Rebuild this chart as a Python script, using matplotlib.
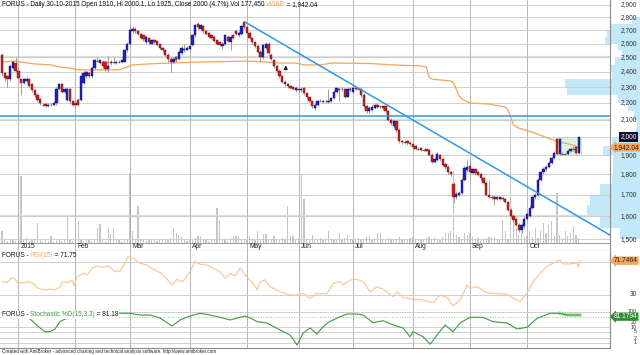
import numpy as np
import matplotlib
matplotlib.use("Agg")
from matplotlib import pyplot as plt
from matplotlib.ticker import NullLocator

plt.rcParams['font.family'] = ['Liberation Sans', 'DejaVu Sans']

# ---- daily bars, 22 Dec 2014 .. 30 Oct 2015 (one row per month) ----
opens = [2520, 2390, 2370, 2350, 2430, 2460,
         2410, 2350, 2330, 2340, 2350, 2320, 2280, 2250, 2225, 2190, 2195, 2180, 2190, 2185, 2200, 2290, 2320, 2270, 2220, 2290, 2210,
         2200, 2220, 2220, 2330, 2370, 2390, 2370, 2430, 2475, 2460, 2470, 2445, 2420, 2470, 2465, 2460, 2468, 2465, 2470, 2550,
         2600, 2690, 2710, 2690, 2670, 2660, 2610, 2640, 2600, 2625, 2615, 2595, 2570, 2550, 2520, 2490, 2470, 2500, 2490, 2530, 2550, 2555,
         2560, 2590, 2660, 2750, 2710, 2730, 2690, 2680, 2660, 2650, 2625, 2610, 2580, 2600, 2650, 2610, 2660, 2690, 2660, 2670, 2760,
         2720, 2680, 2640, 2610, 2580, 2540, 2500, 2570, 2600, 2520, 2480, 2440, 2410, 2370, 2335, 2320, 2305, 2300, 2280,
         2290, 2280, 2295, 2260, 2235, 2215, 2170, 2185, 2210, 2215, 2210, 2205, 2215, 2230, 2270, 2290, 2290, 2290, 2240, 2290,
         2270, 2295, 2290, 2290, 2250, 2180, 2150, 2160, 2170, 2190, 2180, 2180, 2180, 2150, 2100, 2060, 2090, 2040, 1975, 1970, 1975, 1965,
         1960, 1950, 1935, 1940, 1930, 1932, 1928, 1900, 1865, 1875, 1900, 1880, 1855, 1840, 1810, 1750, 1690, 1700, 1710, 1770, 1820,
         1845, 1805, 1825, 1810, 1800, 1780, 1757, 1700, 1690, 1690, 1690, 1680, 1685, 1680, 1665, 1630, 1600, 1590, 1560, 1540, 1555,
         1590, 1600, 1640, 1690, 1700, 1770, 1810, 1825, 1840, 1860, 1885, 1990, 1905, 1905, 1905, 1905, 1920, 1935, 1945, 1910]
highs = [2530, 2400, 2380, 2450, 2480, 2500,
         2420, 2360, 2360, 2370, 2355, 2330, 2290, 2260, 2230, 2200, 2200, 2200, 2200, 2210, 2300, 2330, 2330, 2295, 2300, 2295, 2220,
         2215, 2230, 2380, 2410, 2410, 2400, 2440, 2490, 2500, 2490, 2480, 2450, 2510, 2480, 2500, 2480, 2480, 2490, 2560, 2610,
         2740, 2730, 2720, 2700, 2680, 2670, 2660, 2650, 2635, 2630, 2620, 2600, 2575, 2560, 2530, 2500, 2500, 2510, 2550, 2580, 2600, 2580,
         2590, 2670, 2750, 2760, 2750, 2740, 2700, 2690, 2670, 2660, 2630, 2620, 2610, 2670, 2660, 2660, 2670, 2700, 2690, 2740, 2770,
         2730, 2690, 2650, 2620, 2590, 2550, 2600, 2610, 2610, 2530, 2490, 2450, 2420, 2380, 2345, 2330, 2315, 2310, 2305,
         2300, 2300, 2300, 2265, 2240, 2220, 2195, 2220, 2225, 2220, 2220, 2290, 2240, 2280, 2300, 2300, 2300, 2295, 2300, 2300,
         2305, 2300, 2300, 2300, 2260, 2190, 2180, 2185, 2195, 2200, 2190, 2185, 2185, 2160, 2110, 2100, 2100, 2050, 1980, 1980, 1980, 1975,
         1965, 1955, 1945, 1945, 1935, 1935, 1935, 1910, 1890, 1915, 1905, 1890, 1860, 1850, 1815, 1760, 1720, 1720, 1780, 1845, 1880,
         1880, 1835, 1830, 1815, 1805, 1785, 1765, 1770, 1700, 1700, 1695, 1695, 1690, 1685, 1670, 1640, 1610, 1595, 1570, 1570, 1600,
         1620, 1650, 1700, 1710, 1780, 1815, 1840, 1850, 1870, 1890, 1920, 1995, 1995, 1915, 1910, 1930, 1945, 1950, 1950, 2000]
lows = [2370, 2340, 2300, 2340, 2420, 2400,
        2350, 2250, 2320, 2330, 2300, 2270, 2240, 2210, 2190, 2180, 2175, 2175, 2180, 2180, 2190, 2280, 2260, 2260, 2210, 2200, 2180,
        2180, 2180, 2215, 2320, 2360, 2360, 2360, 2420, 2465, 2455, 2430, 2410, 2400, 2450, 2455, 2455, 2460, 2460, 2465, 2540,
        2590, 2680, 2680, 2660, 2630, 2620, 2600, 2600, 2595, 2600, 2580, 2560, 2540, 2510, 2470, 2400, 2460, 2470, 2480, 2520, 2540, 2550,
        2550, 2580, 2650, 2710, 2700, 2680, 2660, 2640, 2630, 2610, 2590, 2580, 2560, 2590, 2610, 2550, 2630, 2660, 2650, 2660, 2710,
        2670, 2630, 2600, 2570, 2530, 2470, 2490, 2560, 2520, 2480, 2430, 2400, 2360, 2325, 2310, 2295, 2285, 2280, 2270,
        2270, 2270, 2250, 2225, 2205, 2170, 2160, 2180, 2205, 2200, 2200, 2200, 2205, 2225, 2260, 2210, 2275, 2230, 2235, 2270,
        2265, 2280, 2280, 2240, 2170, 2140, 2140, 2150, 2165, 2170, 2170, 2160, 2140, 2090, 2070, 2050, 2030, 1965, 1960, 1960, 1955, 1950,
        1940, 1930, 1930, 1925, 1925, 1920, 1895, 1860, 1860, 1870, 1870, 1845, 1830, 1800, 1790, 1660, 1680, 1695, 1700, 1765, 1810,
        1800, 1800, 1795, 1790, 1770, 1750, 1695, 1685, 1680, 1650, 1675, 1675, 1670, 1660, 1625, 1595, 1575, 1555, 1530, 1527, 1550,
        1585, 1595, 1635, 1680, 1695, 1765, 1800, 1815, 1835, 1855, 1880, 1900, 1900, 1900, 1900, 1900, 1915, 1925, 1905, 1905]
closes = [2390, 2360, 2350, 2440, 2465, 2410,
          2360, 2330, 2350, 2355, 2310, 2280, 2250, 2220, 2200, 2190, 2180, 2190, 2185, 2200, 2290, 2320, 2270, 2285, 2290, 2210, 2190,
          2185, 2190, 2370, 2390, 2400, 2370, 2430, 2480, 2475, 2480, 2440, 2420, 2440, 2460, 2465, 2470, 2468, 2480, 2550, 2600,
          2700, 2710, 2690, 2670, 2640, 2630, 2650, 2610, 2625, 2610, 2590, 2570, 2550, 2520, 2490, 2470, 2490, 2480, 2540, 2570, 2560, 2570,
          2580, 2660, 2740, 2720, 2740, 2690, 2670, 2650, 2640, 2620, 2600, 2590, 2600, 2660, 2620, 2650, 2640, 2670, 2680, 2730, 2720,
          2680, 2640, 2610, 2580, 2540, 2500, 2590, 2600, 2530, 2490, 2440, 2410, 2370, 2335, 2320, 2305, 2295, 2290, 2295,
          2280, 2290, 2260, 2235, 2215, 2180, 2185, 2210, 2215, 2205, 2210, 2215, 2230, 2270, 2295, 2280, 2285, 2240, 2290, 2280,
          2295, 2285, 2290, 2250, 2180, 2150, 2170, 2175, 2185, 2175, 2180, 2170, 2150, 2100, 2080, 2090, 2040, 1975, 1970, 1970, 1965, 1960,
          1945, 1935, 1935, 1930, 1930, 1925, 1900, 1865, 1880, 1905, 1880, 1850, 1840, 1810, 1800, 1690, 1705, 1710, 1770, 1835, 1840,
          1810, 1825, 1805, 1795, 1780, 1757, 1700, 1690, 1690, 1680, 1680, 1688, 1678, 1665, 1630, 1600, 1585, 1560, 1540, 1560, 1590,
          1610, 1640, 1690, 1700, 1770, 1810, 1830, 1840, 1860, 1885, 1910, 1905, 1990, 1905, 1905, 1925, 1935, 1935, 1910, 2000]
volume_k = [420, 105, 70, 140, 105, 70,
            2280, 2350, 105, 175, 70, 105, 140, 700, 105, 70, 105, 70, 245, 70, 105, 140, 70, 105, 980, 105, 70,
            140, 770, 105, 70, 105, 140, 70, 105, 525, 665, 105, 70, 560, 315, 525, 140, 105, 70, 140, 105,
            2450, 420, 140, 1300, 140, 105, 70, 105, 140, 105, 70, 105, 140, 105, 105, 175, 525, 350, 280, 210, 105, 70,
            140, 105, 175, 245, 245, 105, 140, 70, 105, 140, 1225, 805, 105, 140, 70, 175, 245, 245, 245, 105, 140,
            105, 245, 140, 105, 420, 140, 315, 315, 140, 105, 245, 140, 105, 175, 140, 1300, 245, 245, 140,
            175, 2380, 1540, 140, 105, 280, 140, 105, 175, 105, 140, 420, 140, 105, 140, 350, 105, 175, 280, 140,
            105, 140, 175, 105, 140, 210, 245, 105, 140, 350, 350, 140, 105, 175, 140, 105, 140, 210, 105, 140, 105, 175,
            210, 140, 105, 140, 105, 175, 210, 140, 175, 140, 105, 210, 350, 350, 420, 2520, 280, 210, 140, 350, 280,
            350, 210, 140, 175, 105, 140, 175, 210, 210, 210, 140, 105, 805, 420, 140, 4270, 875, 525, 280, 420, 210,
            245, 420, 210, 525, 175, 420, 700, 350, 630, 770, 245, 1750, 280, 175, 420, 245, 350, 595, 280, 177]

month_idx = [6, 27, 47, 69, 90, 109, 129, 151, 172, 193]
month_lbl = ['2015', 'Feb', 'Mar', 'Apr', 'May', 'Jun', 'Jul', 'Aug', 'Sep', 'Oct']

# VWAP line
vwap_idx = [0, 5, 7, 12, 18, 21, 25, 28, 31, 43, 46, 48, 54, 58, 73, 91, 102, 108, 111, 117, 121, 135, 144, 154, 156,
            157, 158, 165, 166, 168, 169, 172, 179, 185, 186, 187, 188, 190, 195, 200, 205, 210, 212]
vwap_val = [2468, 2475, 2468, 2455, 2448, 2434, 2427, 2414, 2414, 2414, 2434, 2448, 2455, 2458, 2468, 2475, 2461, 2461, 2448, 2448, 2461, 2458, 2448, 2441, 2434,
            2366, 2353, 2340, 2327, 2244, 2225, 2200, 2193, 2175, 2157, 2116, 2068, 2050, 2026, 1997, 1971, 1955, 1942.04]

trend_idx = [89.3, 223.5]
trend_val = [2762, 1518]
hline_val = 2121
box_idx = [203.9, 212.9]
box_val = [1900, 2000]
sell_arrow = (37.9, 2475, 2410)
buy_arrow = (104.3, 2395, 2465)

# volume-at-price profile (price bins, width in pixels from right edge)
prof_lo = [1500, 1550, 1600, 1650, 1700, 1750, 1800, 1850, 1900, 1950, 2000, 2050, 2100, 2150, 2200, 2250,
           2300, 2350, 2400, 2450, 2500, 2550, 2600, 2650, 2700, 2750]
prof_w = [20, 40, 53, 50, 40, 28, 27, 27, 37, 28, 4, 3, 6, 12, 22, 73, 75, 28, 30, 25, 18, 22, 35, 33, 30, 8]

# RSI(15) and Stochastic %D
rsi_idx = [0, 1.8, 3.7, 4.8, 5.9, 7.7, 9.6, 11.4, 12.9, 15.1, 17.6, 19.5, 21.3, 22.4, 24.3, 25.7, 26.5, 27.6, 28.7, 29.8,
           31.3, 33.1, 34.9, 37.1, 39.0, 41.5, 43.4, 45.2, 46.3, 48.2, 50.7, 53.3, 55.5, 58.1, 60.7, 62.5, 64.3, 66.5, 69.1,
           71.0, 72.8, 75.4, 77.6, 80.1, 82.0, 83.8, 85.7, 87.5, 88.6, 90.1, 92.3, 93.8, 94.9, 96.7, 98.5, 102.2, 105.9,
           108.5, 110.7, 113.2, 115.8, 116.9, 119.5, 121.7, 124.3, 125.4, 127.9, 130.5, 132.7, 135.3, 137.9, 140.1, 143.8,
           145.2, 147.4, 151.1, 154.8, 158.5, 161.0, 163.6, 165.8, 168.4, 171.0, 172.1, 174.6, 178.3, 183.1, 185.7, 187.9,
           190.4, 193.0, 195.2, 197.8, 200.4, 202.6, 205.1, 206.3, 208.8, 211.4, 211.8, 212.5]
rsi_val = [46.2, 45.0, 51.5, 49.1, 44.2, 45.0, 46.2, 44.2, 38.9, 36.1, 36.9, 36.1, 40.1, 46.2, 45.0, 48.3, 41.3, 52.3, 54.3, 56.4,
           54.3, 62.5, 65.3, 63.7, 65.7, 58.4, 59.2, 68.6, 76.6, 74.7, 68.6, 66.5, 61.3, 57.2, 49.1, 42.2, 49.1, 46.2, 58.4,
           70.5, 67.4, 66.5, 62.5, 58.4, 50.3, 56.4, 53.1, 62.5, 58.4, 51.5, 44.2, 36.1, 46.2, 48.3, 40.1, 34.0, 30.0,
           30.0, 32.0, 26.0, 32.0, 31.2, 32.0, 44.2, 46.2, 42.2, 48.3, 49.1, 46.2, 34.0, 40.1, 37.0, 27.9,
           34.0, 27.2, 24.8, 23.9, 20.6, 30.0, 27.2, 16.6, 23.9, 42.2, 38.2, 40.1, 32.8, 31.2, 31.2, 26.0,
           21.9, 32.0, 46.2, 56.4, 65.3, 68.6, 72.6, 67.7, 67.7, 69.3, 64.0, 71.75]
sto_idx = [8.5, 11.4, 14.0, 15.8, 17.6, 19.5, 21.3, 23.2, 25.7, 39.0, 47.0, 50.7, 54.4, 58.0, 62.5, 65.4, 69.1, 72.8,
           76.5, 80.1, 83.8, 87.5, 89.3, 91.2, 93.8, 97.4, 102.2, 105.9, 108.5, 110.7, 113.2, 115.8, 116.9, 119.5, 123.2,
           126.8, 130.5, 132.7, 136.4, 140.1, 143.8, 147.4, 150.0, 151.1, 154.8, 157.4, 159.9, 162.9, 165.8, 168.4, 172.1,
           176.8, 180.5, 185.7, 189.3, 193.0, 196.7, 201.5, 205.1, 207.7, 212.5]
sto_val = [61.2, 22.7, 8.9, 5.1, 5.1, 7.7, 22.7, 33.8, 39.3, 78.8, 78.8, 61.2, 61.2, 39.3, 11.9, 29.1, 52.8, 78.8,
           61.2, 43.5, 29.1, 43.5, 52.8, 39.3, 22.7, 18.7, 6.6, 3.1, 0.7, 4.2, 8.9, 3.6, 6.6, 18.7, 39.3,
           71.0, 71.0, 61.2, 19.5, 26.2, 13.9, 8.9, 2.4, 5.1, 2.4, 0.8, 3.1, 13.9, 5.1, 18.7, 43.5,
           43.5, 22.7, 18.7, 7.7, 9.8, 37.5, 78.8, 78.8, 61.2, 61.2]

W, H = 640, 355
def fx(px):
    return px / W
def fy(py):
    return 1 - py / H

BLUE_C, RED_C = '#1f1fc8', '#c81e1e'
GRID = '#c9c9c9'
VGRID = '#a9a9a9'
LINE_BLUE = '#2f97ee'
ORANGE = '#f5a55a'
GREEN = '#3d9a3d'
XMIN, XMAX = -0.75, 223.5
FS = 4.7       # small AmiBroker-like text
FS_AX = 4.8    # axis labels

fig = plt.figure(figsize=(W / 100, H / 100), dpi=100)
fig.patch.set_facecolor('white')

# volume-at-price profile sits behind everything
pax = fig.add_axes([fx(555), fy(251), fx(85), 251 / H], zorder=0)
pax.set_yscale('log')
pax.set_ylim(1451.5, 2938)
pax.set_xlim(0, 85)
pax.barh(prof_lo, prof_w, height=50, left=[85 - w for w in prof_w], align='edge', color='#c3e9f8', lw=0)
pax.axis('off')

ax = fig.add_axes([0, fy(251), fx(610), 251 / H], zorder=2)
ax.patch.set_visible(False)
vax = fig.add_axes([0, fy(251), fx(610), 251 / H], zorder=1)
vax.patch.set_visible(False)
vax.axis('off')
vax.set_xlim(XMIN, XMAX)
vax.set_ylim(-280, 8505)
x = np.arange(len(closes))
vax.bar(x, volume_k, width=0.45, color='#c6c6c6', lw=0)

o = np.array(opens, float)
c = np.array(closes, float)
ax.set_yscale('log')
ax.set_ylim(1451.5, 2938)
ax.set_xlim(XMIN, XMAX)
levels = list(range(1500, 3000, 100))
ax.yaxis.set_minor_locator(NullLocator())
ax.set_yticks(levels)
ax.set_xticks(month_idx)
ax.tick_params(length=0, labelleft=False, labelbottom=False)
ax.grid(axis='y', color=GRID, lw=0.6)
ax.grid(axis='x', color=VGRID, lw=0.6)
for lv in (2500, 2100, 1600):
    ax.axhline(lv, color='#dedede', lw=1.6, zorder=0)
for s in ('top', 'left'):
    ax.spines[s].set_visible(False)
ax.spines['right'].set_color('#8a8a8a')
ax.spines['bottom'].set_color('#8a8a8a')
ax.axhline(1484.5, color='#9a9a9a', lw=0.7)

up = c > o
dn = c < o
fl = c == o
ax.vlines(x, lows, highs, color='#8f8f8f', lw=0.6, zorder=3)
ax.bar(x[up], (c - o)[up], bottom=o[up], width=0.85, color=BLUE_C, edgecolor='#151560', lw=0.3, zorder=4)
ax.bar(x[dn], (o - c)[dn], bottom=c[dn], width=0.85, color=RED_C, edgecolor='#601515', lw=0.3, zorder=4)
ax.hlines(c[fl], x[fl] - 0.45, x[fl] + 0.45, color='#555555', lw=0.8, zorder=4)

ax.plot(vwap_idx, vwap_val, color=ORANGE, lw=0.9, zorder=2)
ax.plot(trend_idx, trend_val, color=LINE_BLUE, lw=1.1, zorder=5)
ax.axhline(hline_val, color=LINE_BLUE, lw=1.1, zorder=5)
ax.fill_between(box_idx, box_val[0], box_val[1], facecolor='#d6f0d6', edgecolor='#66b866', lw=0.6,
                linestyle=':', alpha=0.8, zorder=1)
ax.annotate('', xy=(sell_arrow[0], sell_arrow[2]), xytext=(sell_arrow[0], sell_arrow[1]),
            arrowprops=dict(arrowstyle='-|>', color='#e01010', lw=1.3, mutation_scale=6), zorder=6)
ax.annotate('', xy=(buy_arrow[0], buy_arrow[2]), xytext=(buy_arrow[0], buy_arrow[1]),
            arrowprops=dict(arrowstyle='-|>', color='#202020', lw=0.9, mutation_scale=5), zorder=6)

ytr = ax.get_yaxis_transform()
for lv in levels:
    ax.text(637 / 610, lv, f"{lv:,}", transform=ytr, ha='right', va='center', fontsize=FS_AX, color='#333333', clip_on=False)
ax.text(637 / 610, 2000, '2,000', transform=ytr, ha='right', va='center', fontsize=FS_AX, color='white', clip_on=False,
        bbox=dict(boxstyle='square,pad=0.2', fc='#10102a', ec='none'), zorder=10)
ax.text(614 / 610, vwap_val[-1], '1,942.04', transform=ytr, ha='left', va='center', fontsize=FS_AX, color='#222222',
        clip_on=False, bbox=dict(boxstyle='larrow,pad=0.1', fc=ORANGE, ec='none'), zorder=10)

xtr = ax.get_xaxis_transform()
for mi, ml in zip(month_idx, month_lbl):
    ax.text(mi + 0.8, 4.5 / 251, ml, transform=xtr, ha='left', va='center', fontsize=FS_AX, color='#222222')

# title with coloured VWAP
t1 = fig.text(fx(2), fy(5), 'FORUS - Daily 30-10-2015 Open 1910, Hi 2000.1, Lo 1925, Close 2000 (4.7%) Vol 177,450 ',
              fontsize=FS, color='#111111', va='center', ha='left')
t2 = ax.annotate('VWAP', xy=(1, 0), xycoords=t1, va='bottom', ha='left', fontsize=FS, color=ORANGE)
ax.annotate(' = 1,942.04', xy=(1, 0), xycoords=t2, va='bottom', ha='left', fontsize=FS, color='#111111')

# ---- RSI panel ----
rax = fig.add_axes([0, fy(310), fx(610), 59 / H], zorder=2)
rax.set_xlim(XMIN, XMAX)
rax.set_ylim(11.74, 83.55)
rax.set_xticks(month_idx)
rax.set_yticks([30, 70])
rax.tick_params(length=0, labelleft=False, labelbottom=False)
rax.grid(axis='x', color=VGRID, lw=0.6)
rax.grid(axis='y', color=GRID, lw=0.6)
for s in ('top', 'left'):
    rax.spines[s].set_visible(False)
rax.spines['right'].set_color('#8a8a8a')
rax.spines['bottom'].set_color('#8a8a8a')
rax.plot(rsi_idx, rsi_val, color='#fbc391', lw=0.8)
rtr = rax.get_yaxis_transform()
rax.text(637 / 610, 30, '30', transform=rtr, ha='right', va='center', fontsize=FS_AX, color='#333333', clip_on=False)
rax.text(614 / 610, rsi_val[-1], '71.7464', transform=rtr, ha='left', va='center', fontsize=FS_AX, color='#222222',
         clip_on=False, bbox=dict(boxstyle='larrow,pad=0.1', fc=ORANGE, ec='none'))
r1 = rax.text(2 / 610, 0.93, 'FORUS - ', transform=rax.transAxes, fontsize=FS, color='#111111', va='center')
r2 = rax.annotate('RSI(15)', xy=(1, 0), xycoords=r1, va='bottom', fontsize=FS, color=ORANGE)
rax.annotate(' = 71.75', xy=(1, 0), xycoords=r2, va='bottom', fontsize=FS, color='#111111')

# ---- Stochastic panel ----
sax = fig.add_axes([0, fy(348), fx(610), 38 / H], zorder=2)
sax.set_yscale('log')
sax.set_xlim(XMIN, XMAX)
sax.set_ylim(0.455, 128.7)
sax.yaxis.set_minor_locator(NullLocator())
sax.set_xticks(month_idx)
sax.set_yticks([1, 2, 5, 10, 100])
sax.tick_params(length=0, labelleft=False, labelbottom=False)
sax.grid(axis='x', color=VGRID, lw=0.6)
sax.grid(axis='y', color=GRID, lw=0.6)
sax.axhline(45, color='#8fd08f', lw=0.7, ls=':')
for s in ('top', 'left'):
    sax.spines[s].set_visible(False)
sax.spines['right'].set_color('#8a8a8a')
sax.spines['bottom'].set_color('#8a8a8a')
sax.plot(sto_idx[-3:], sto_val[-3:], color='#b5e2b5', lw=2.6)
sax.plot(sto_idx, sto_val, color=GREEN, lw=0.8)
str_ = sax.get_yaxis_transform()
for lv in (100, 20, 10, 5, 2, 1):
    sax.text(637 / 610, lv, str(lv), transform=str_, ha='right', va='center', fontsize=3.8, color='#333333', clip_on=False)
sax.text(614 / 610, 48, '81.1794', transform=str_, ha='left', va='center', fontsize=FS_AX, color='white',
         clip_on=False, bbox=dict(boxstyle='larrow,pad=0.1', fc='#2f8f2f', ec='none'), zorder=10)
s1 = sax.text(2 / 610, 0.87, 'FORUS - ', transform=sax.transAxes, fontsize=FS, color='#111111', va='center',
              bbox=dict(fc='white', ec='none', pad=0.3), zorder=5)
s2 = sax.annotate('Stochastic %D(15,3,3)', xy=(1, 0), xycoords=s1, va='bottom', fontsize=FS, color=GREEN,
                  bbox=dict(fc='white', ec='none', pad=0.3), zorder=5)
sax.annotate(' = 81.18', xy=(1, 0), xycoords=s2, va='bottom', fontsize=FS, color='#111111',
             bbox=dict(fc='white', ec='none', pad=0.3), zorder=5)

fig.text(fx(2), fy(351.5), 'Created with AmiBroker - advanced charting and technical analysis software. http://www.amibroker.com',
         fontsize=3.3, color='#222222', va='center', ha='left')

fig.savefig('out.png', dpi=100, facecolor='white')
